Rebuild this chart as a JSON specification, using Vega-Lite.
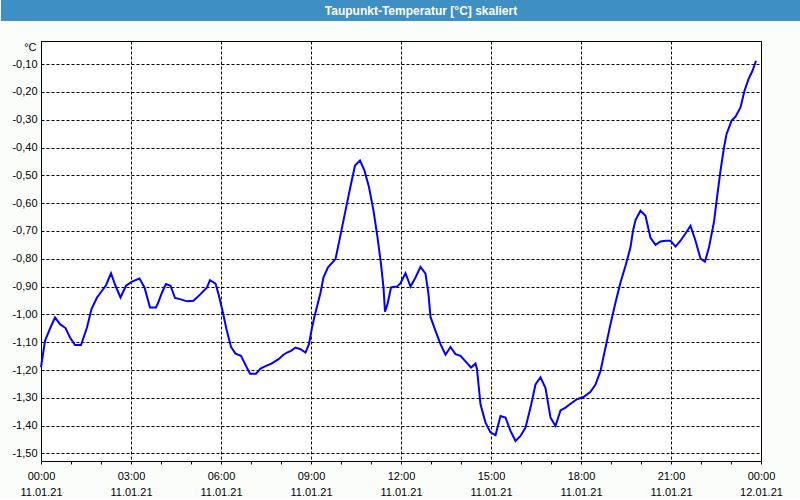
{
  "$schema": "https://vega.github.io/schema/vega-lite/v6.json",
  "padding": 0,
  "background": "#fbfdfb",
  "spacing": 19,
  "config": {"font": "Liberation Sans", "view": {"stroke": null}},
  "vconcat": [
    {
      "width": 760,
      "height": 21,
      "view": {"fill": "#3d8fc4", "stroke": null},
      "data": {"values": [{"title": "Taupunkt-Temperatur [°C] skaliert"}]},
      "mark": {"type": "text", "color": "#ffffff", "fontWeight": "bold", "fontSize": 12, "font": "Liberation Sans"},
      "encoding": {
        "text": {"field": "title", "type": "nominal"},
        "y": {
          "datum": 0,
          "type": "quantitative",
          "scale": {"domain": [-1, 1], "nice": false, "zero": false},
          "axis": {"title": null, "labels": false, "ticks": false, "grid": false, "domain": true, "domainColor": "#3d8fc4", "domainWidth": 80, "domainCap": "butt", "translate": 0}
        }
      }
    },
    {
      "width": 720,
      "height": 420,
      "view": {"fill": "#ffffff", "stroke": "#000000", "strokeWidth": 1},
      "data": {"values": [
        {"minute": 0, "value": -1.19},
        {"minute": 8, "value": -1.095},
        {"minute": 19, "value": -1.047},
        {"minute": 28, "value": -1.011},
        {"minute": 38, "value": -1.035},
        {"minute": 49, "value": -1.049},
        {"minute": 58, "value": -1.083},
        {"minute": 68, "value": -1.11},
        {"minute": 80, "value": -1.11},
        {"minute": 92, "value": -1.047},
        {"minute": 101, "value": -0.981},
        {"minute": 112, "value": -0.939},
        {"minute": 122, "value": -0.915},
        {"minute": 130, "value": -0.895},
        {"minute": 140, "value": -0.852},
        {"minute": 149, "value": -0.897},
        {"minute": 159, "value": -0.939},
        {"minute": 170, "value": -0.897},
        {"minute": 182, "value": -0.882},
        {"minute": 197, "value": -0.871},
        {"minute": 207, "value": -0.903},
        {"minute": 218, "value": -0.975},
        {"minute": 230, "value": -0.975},
        {"minute": 235, "value": -0.955},
        {"minute": 242, "value": -0.921},
        {"minute": 250, "value": -0.891},
        {"minute": 259, "value": -0.897},
        {"minute": 268, "value": -0.941},
        {"minute": 278, "value": -0.945},
        {"minute": 292, "value": -0.953},
        {"minute": 305, "value": -0.951},
        {"minute": 319, "value": -0.927},
        {"minute": 332, "value": -0.903},
        {"minute": 338, "value": -0.877},
        {"minute": 349, "value": -0.889},
        {"minute": 355, "value": -0.927},
        {"minute": 363, "value": -0.987},
        {"minute": 371, "value": -1.053},
        {"minute": 380, "value": -1.117},
        {"minute": 389, "value": -1.141},
        {"minute": 400, "value": -1.149},
        {"minute": 410, "value": -1.185},
        {"minute": 418, "value": -1.213},
        {"minute": 430, "value": -1.213},
        {"minute": 439, "value": -1.195},
        {"minute": 448, "value": -1.187},
        {"minute": 461, "value": -1.177},
        {"minute": 475, "value": -1.161},
        {"minute": 485, "value": -1.145},
        {"minute": 492, "value": -1.137},
        {"minute": 500, "value": -1.131},
        {"minute": 509, "value": -1.119},
        {"minute": 519, "value": -1.125},
        {"minute": 529, "value": -1.137},
        {"minute": 536, "value": -1.107},
        {"minute": 542, "value": -1.047},
        {"minute": 548, "value": -1.0},
        {"minute": 559, "value": -0.922},
        {"minute": 565, "value": -0.867},
        {"minute": 574, "value": -0.831},
        {"minute": 589, "value": -0.801},
        {"minute": 598, "value": -0.723},
        {"minute": 611, "value": -0.609},
        {"minute": 620, "value": -0.531},
        {"minute": 628, "value": -0.465},
        {"minute": 638, "value": -0.447},
        {"minute": 647, "value": -0.483},
        {"minute": 656, "value": -0.543},
        {"minute": 665, "value": -0.627},
        {"minute": 673, "value": -0.723},
        {"minute": 680, "value": -0.819},
        {"minute": 685, "value": -0.903},
        {"minute": 688, "value": -0.99},
        {"minute": 693, "value": -0.963},
        {"minute": 700, "value": -0.903},
        {"minute": 712, "value": -0.9},
        {"minute": 719, "value": -0.888},
        {"minute": 729, "value": -0.852},
        {"minute": 739, "value": -0.9},
        {"minute": 749, "value": -0.867},
        {"minute": 759, "value": -0.829},
        {"minute": 769, "value": -0.853},
        {"minute": 775, "value": -0.927},
        {"minute": 779, "value": -1.009},
        {"minute": 789, "value": -1.059},
        {"minute": 799, "value": -1.107},
        {"minute": 809, "value": -1.145},
        {"minute": 819, "value": -1.117},
        {"minute": 829, "value": -1.143},
        {"minute": 839, "value": -1.149},
        {"minute": 849, "value": -1.169},
        {"minute": 860, "value": -1.191},
        {"minute": 869, "value": -1.177},
        {"minute": 872, "value": -1.197},
        {"minute": 879, "value": -1.323},
        {"minute": 889, "value": -1.389},
        {"minute": 899, "value": -1.424},
        {"minute": 909, "value": -1.434},
        {"minute": 919, "value": -1.365},
        {"minute": 929, "value": -1.371},
        {"minute": 939, "value": -1.419},
        {"minute": 949, "value": -1.455},
        {"minute": 959, "value": -1.437},
        {"minute": 969, "value": -1.407},
        {"minute": 979, "value": -1.335},
        {"minute": 989, "value": -1.252},
        {"minute": 999, "value": -1.226},
        {"minute": 1009, "value": -1.265},
        {"minute": 1019, "value": -1.371},
        {"minute": 1029, "value": -1.401},
        {"minute": 1039, "value": -1.345},
        {"minute": 1049, "value": -1.335},
        {"minute": 1059, "value": -1.321},
        {"minute": 1072, "value": -1.305},
        {"minute": 1085, "value": -1.297},
        {"minute": 1099, "value": -1.278},
        {"minute": 1109, "value": -1.252},
        {"minute": 1119, "value": -1.203},
        {"minute": 1129, "value": -1.119},
        {"minute": 1139, "value": -1.035},
        {"minute": 1149, "value": -0.957},
        {"minute": 1159, "value": -0.885},
        {"minute": 1169, "value": -0.825},
        {"minute": 1179, "value": -0.759},
        {"minute": 1184, "value": -0.699},
        {"minute": 1189, "value": -0.661},
        {"minute": 1199, "value": -0.627},
        {"minute": 1209, "value": -0.645},
        {"minute": 1219, "value": -0.725},
        {"minute": 1229, "value": -0.75},
        {"minute": 1239, "value": -0.738},
        {"minute": 1249, "value": -0.735},
        {"minute": 1259, "value": -0.735},
        {"minute": 1269, "value": -0.756},
        {"minute": 1279, "value": -0.735},
        {"minute": 1289, "value": -0.709},
        {"minute": 1299, "value": -0.681},
        {"minute": 1309, "value": -0.735},
        {"minute": 1319, "value": -0.799},
        {"minute": 1328, "value": -0.81},
        {"minute": 1336, "value": -0.759},
        {"minute": 1346, "value": -0.667},
        {"minute": 1352, "value": -0.58},
        {"minute": 1359, "value": -0.483},
        {"minute": 1366, "value": -0.4},
        {"minute": 1371, "value": -0.352},
        {"minute": 1381, "value": -0.304},
        {"minute": 1389, "value": -0.289},
        {"minute": 1399, "value": -0.256},
        {"minute": 1407, "value": -0.196},
        {"minute": 1415, "value": -0.154},
        {"minute": 1423, "value": -0.124},
        {"minute": 1430, "value": -0.088}
      ]},
      "mark": {"type": "line", "color": "#0000ff", "strokeWidth": 2},
      "encoding": {
        "x": {
          "field": "minute",
          "type": "quantitative",
          "scale": {"domain": [0, 1440], "nice": false, "zero": false},
          "axis": {
            "title": null,
            "values": [0, 60, 120, 180, 240, 300, 360, 420, 480, 540, 600, 660, 720, 780, 840, 900, 960, 1020, 1080, 1140, 1200, 1260, 1320, 1380, 1440],
            "domain": false,
            "ticks": true,
            "tickSize": 3,
            "tickColor": "#000000",
            "labelExpr": "datum.value % 180 == 0 ? [(floor(datum.value / 60) % 24 < 10 ? '0' : '') + (floor(datum.value / 60) % 24) + ':00', datum.value < 1440 ? '11.01.21' : '12.01.21'] : ''",
            "labelOverlap": false,
            "labelFlush": false,
            "labelBound": false,
            "labelPadding": 6,
            "labelFontSize": 11,
            "labelLineHeight": 16,
            "labelColor": "#000000",
            "grid": true,
            "gridColor": "#000000",
            "gridDash": [3, 2],
            "gridWidth": 1,
            "gridOpacity": {"condition": {"test": "datum.value % 180 == 0", "value": 1}, "value": 0}
          }
        },
        "y": {
          "field": "value",
          "type": "quantitative",
          "scale": {"domain": [-1.527, -0.017], "nice": false, "zero": false},
          "axis": {
            "values": [-1.5, -1.4, -1.3, -1.2, -1.1, -1.0, -0.9, -0.8, -0.7, -0.6, -0.5, -0.4, -0.3, -0.2, -0.1],
            "domain": false,
            "ticks": false,
            "labelPadding": 4,
            "labelFontSize": 11,
            "labelColor": "#000000",
            "labelExpr": "replace((datum.value < 0 ? '-' : '') + format(abs(datum.value), '.2f'), '.', ',')",
            "grid": true,
            "gridColor": "#000000",
            "gridDash": [3, 2],
            "gridWidth": 1,
            "title": "°C",
            "titleAngle": 0,
            "titleX": -5,
            "titleY": 6,
            "titleAlign": "right",
            "titleBaseline": "middle",
            "titleFontWeight": "normal",
            "titleFontSize": 11,
            "titleColor": "#000000",
            "minExtent": 40,
            "maxExtent": 40
          }
        }
      }
    }
  ]
}
